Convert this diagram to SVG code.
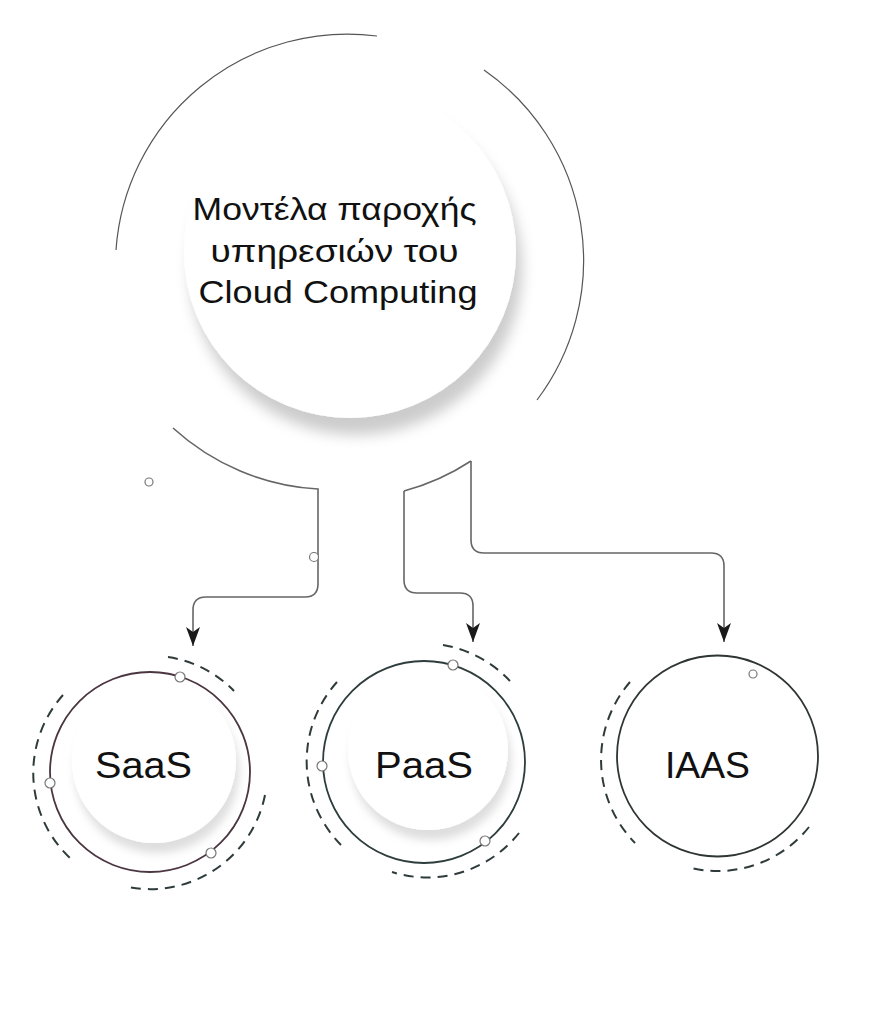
<svg xmlns="http://www.w3.org/2000/svg" width="894" height="1015" viewBox="0 0 894 1015">
  <style>
    .ring { fill: none; stroke: #555; stroke-width: 1.2; }
    .conn { fill: none; stroke: #666; stroke-width: 1.6; marker-end: url(#arrow); }
    .link { fill: none; stroke: #666; stroke-width: 1.6; }
    .dash { fill: none; stroke: #2f3b3b; stroke-width: 2; stroke-dasharray: 10 7; }
    .dot { fill: #fff; stroke: #777; stroke-width: 1.2; }
    .label { font-family: "Liberation Sans", Arial, sans-serif; fill: #111; text-anchor: middle; }
  </style>
  <defs>
    <filter id="bigShadow" x="-30%" y="-30%" width="160%" height="170%">
      <feDropShadow dx="6" dy="17" stdDeviation="7" flood-color="#000" flood-opacity="0.2"/>
    </filter>
    <filter id="smallShadow" x="-30%" y="-30%" width="160%" height="170%">
      <feDropShadow dx="3" dy="10" stdDeviation="4" flood-color="#000" flood-opacity="0.13"/>
    </filter>
    <marker id="arrow" viewBox="0 0 19 14" refX="19" refY="7" markerWidth="19" markerHeight="14" markerUnits="userSpaceOnUse" orient="auto">
      <path d="M0,0 L19,7 L0,14 L5,7 Z" fill="#1a1a1a"/>
    </marker>
  </defs>

  <rect width="894" height="1015" fill="#fff"/>

  <!-- central topic -->
  <g id="topic">
    <circle cx="350" cy="252" r="166" fill="#fff" filter="url(#bigShadow)"/>
    <path class="ring" d="M116,250 A232,232 0 0 1 377,36"/>
    <path class="ring" d="M484,70 A232,232 0 0 1 537,400"/>
    <circle class="dot" cx="149" cy="482" r="4"/>
    <text class="label" font-size="32">
      <tspan x="339" y="220" textLength="284" lengthAdjust="spacingAndGlyphs">Μοντέλα παροχής</tspan>
      <tspan x="339" y="262" textLength="248" lengthAdjust="spacingAndGlyphs">υπηρεσιών του</tspan>
      <tspan x="338" y="303" textLength="279" lengthAdjust="spacingAndGlyphs">Cloud Computing</tspan>
    </text>
  </g>

  <!-- connectors -->
  <g id="connectors">
    <path class="conn" d="M173,428 A235,235 0 0 0 318,489 L318,584 Q318,597 305,597 L206,597 Q193,597 193,610 L193,646"/>
    <circle class="dot" cx="314" cy="557" r="4.5"/>
    <path class="link" d="M404,491 A232,232 0 0 0 471,461"/>
    <path class="conn" d="M404,491 L404,580 Q404,593 417,593 L460,593 Q473,593 473,606 L473,642"/>
    <path class="conn" d="M471,461 L471,540 Q471,553 484,553 L711,553 Q724,553 724,566 L724,642"/>
  </g>

  <!-- SaaS -->
  <g id="saas">
    <circle cx="154" cy="761" r="82" fill="#fff" filter="url(#smallShadow)"/>
    <circle cx="150" cy="772" r="100" fill="none" stroke="#4b3541" stroke-width="1.8"/>
    <path class="dash" d="M63,695 A117,117 0 0 0 71,859"/>
    <path class="dash" d="M168,657 A117,117 0 0 1 234,691"/>
    <path class="dash" d="M265,795 A117,117 0 0 1 128,887"/>
    <circle class="dot" cx="180" cy="677" r="5"/>
    <circle class="dot" cx="50" cy="783" r="5"/>
    <circle class="dot" cx="211" cy="853" r="5"/>
    <text class="label" x="143.5" y="778" font-size="36" textLength="97" lengthAdjust="spacingAndGlyphs">SaaS</text>
  </g>

  <!-- PaaS -->
  <g id="paas">
    <circle cx="428" cy="750" r="80" fill="#fff" filter="url(#smallShadow)"/>
    <circle cx="424" cy="762" r="101" fill="none" stroke="#2d3c3c" stroke-width="1.8"/>
    <path class="dash" d="M337,682 A119,119 0 0 0 341,845"/>
    <path class="dash" d="M443,645 A119,119 0 0 1 510,681"/>
    <path class="dash" d="M519,833 A117,117 0 0 1 392,872"/>
    <circle class="dot" cx="453" cy="665" r="5"/>
    <circle class="dot" cx="322" cy="766" r="5"/>
    <circle class="dot" cx="485" cy="841" r="5"/>
    <text class="label" x="424" y="778" font-size="36" textLength="98" lengthAdjust="spacingAndGlyphs">PaaS</text>
  </g>

  <!-- IAAS -->
  <g id="iaas">
    <circle cx="717.5" cy="756" r="100.5" fill="none" stroke="#2f3535" stroke-width="1.8"/>
    <path class="dash" d="M630,682 A119,119 0 0 0 635,843"/>
    <path class="dash" d="M809,827 A117,117 0 0 1 687,867"/>
    <circle class="dot" cx="753" cy="674" r="4"/>
    <text class="label" x="707.5" y="778" font-size="36" textLength="85" lengthAdjust="spacingAndGlyphs">IAAS</text>
  </g>
</svg>
